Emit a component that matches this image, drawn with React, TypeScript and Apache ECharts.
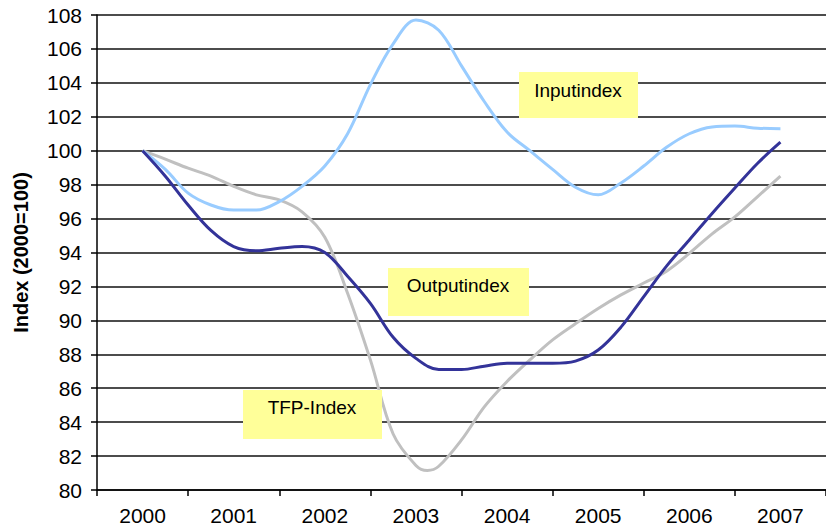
import React, { useEffect, useRef } from "react";
import * as echarts from "echarts";

const years = ["2000", "2001", "2002", "2003", "2004", "2005", "2006", "2007"];

const times = [
  2000, 2000.25, 2000.5, 2000.75, 2001, 2001.25, 2001.5, 2001.75,
  2002, 2002.25, 2002.5, 2002.75, 2003, 2003.25, 2003.5, 2003.75,
  2004, 2004.25, 2004.5, 2004.75, 2005, 2005.25, 2005.5, 2005.75,
  2006, 2006.25, 2006.5, 2006.75, 2007,
];

const inputIndex = [
  100, 98.9, 97.5, 96.8, 96.5, 96.5, 97.0, 97.9,
  99.1, 101.0, 103.9, 106.3, 107.7, 107.1, 105.0, 102.9,
  101.1, 100.0, 98.9, 97.85, 97.4, 98.1, 99.1, 100.2,
  101.0, 101.4, 101.45, 101.33, 101.3,
];

const outputIndex = [
  100, 98.5, 96.8, 95.3, 94.35, 94.1, 94.25, 94.35,
  94.0, 92.6, 91.0, 89.0, 87.76, 87.1, 87.1, 87.3,
  87.47, 87.47, 87.47, 87.6, 88.25, 89.6, 91.4, 93.2,
  94.74, 96.3, 97.8, 99.26, 100.5,
];

const tfpTimes = [
  2000, 2000.25, 2000.5, 2000.75, 2001, 2001.25, 2001.5, 2001.75,
  2002, 2002.25, 2002.5, 2002.75, 2003, 2003.125, 2003.25, 2003.5, 2003.75,
  2004, 2004.25, 2004.5, 2004.75, 2005, 2005.25, 2005.5, 2005.75,
  2006, 2006.25, 2006.5, 2006.75, 2007,
];

const tfpIndex = [
  100, 99.5, 98.97, 98.5, 97.9, 97.4, 97.1, 96.4,
  94.9, 91.6, 87.67, 83.3, 81.45, 81.15, 81.4, 82.95, 84.9,
  86.4, 87.67, 88.85, 89.8, 90.7, 91.5, 92.2, 92.9,
  93.95, 95.1, 96.1, 97.3, 98.5,
];

const FONT = "Liberation Sans, Arial, sans-serif";

export default function App() {
  const ref = useRef<HTMLDivElement>(null);
  useEffect(() => {
    document.body.style.margin = "0";
    if (!ref.current) return;
    const chart = echarts.init(ref.current, undefined, { renderer: "svg" });
    const pair = (ts: number[], vals: number[]) => vals.map((v, i) => [ts[i], v]);
    const lineSeries = (name: string, ts: number[], vals: number[], color: string) => ({
      name,
      type: "line",
      xAxisIndex: 1,
      data: pair(ts, vals),
      smooth: 0.35,
      symbol: "none",
      lineStyle: { color, width: 3 },
    });
    const box = (x: number, y: number, w: number, h: number, text: string, tx: number, ty: number) => [
      { type: "rect", shape: { x, y, width: w, height: h }, style: { fill: "#FFFF99" }, z: 10 },
      {
        type: "text",
        x: tx,
        y: ty,
        style: { text, fill: "#000", font: `19px ${FONT}`, align: "center", verticalAlign: "middle" },
        z: 11,
      },
    ];
    chart.setOption({
      animation: false,
      backgroundColor: "#fff",
      grid: { left: 97, right: -12.6, top: 15, bottom: 40, containLabel: false },
      xAxis: [
        {
          type: "category",
          data: years,
          boundaryGap: true,
          axisLine: { show: true, lineStyle: { color: "#000", width: 1.5 } },
          axisTick: { show: true, length: 6, interval: 0, lineStyle: { color: "#000", width: 1.5 } },
          axisLabel: { color: "#000", fontFamily: FONT, fontSize: 21, margin: 15, interval: 0 },
          splitLine: { show: false },
        },
        { type: "value", min: 1999.5, max: 2007.5, show: false },
      ],
      yAxis: {
        type: "value",
        min: 80,
        max: 108,
        interval: 2,
        name: "Index (2000=100)",
        nameLocation: "middle",
        nameGap: 66,
        nameTextStyle: { color: "#000", fontFamily: FONT, fontSize: 20, fontWeight: "bold" },
        axisLine: { show: true, lineStyle: { color: "#000", width: 1.5 } },
        axisTick: { show: true, length: 6, lineStyle: { color: "#000", width: 1.5 } },
        axisLabel: { color: "#000", fontFamily: FONT, fontSize: 21, margin: 15 },
        splitLine: { show: true, lineStyle: { color: "#111", width: 1.5 } },
      },
      series: [
        lineSeries("TFP-Index", tfpTimes, tfpIndex, "#C0C0C0"),
        lineSeries("Inputindex", times, inputIndex, "#99CCFF"),
        lineSeries("Outputindex", times, outputIndex, "#333399"),
      ],
      graphic: [
        ...box(519, 72, 119, 46, "Inputindex", 578, 90),
        ...box(388, 268, 141, 48, "Outputindex", 458, 285),
        ...box(243, 390, 139, 49, "TFP-Index", 312, 407),
      ],
    });
    return () => chart.dispose();
  }, []);
  return <div ref={ref} style={{ width: 826, height: 530 }} />;
}
